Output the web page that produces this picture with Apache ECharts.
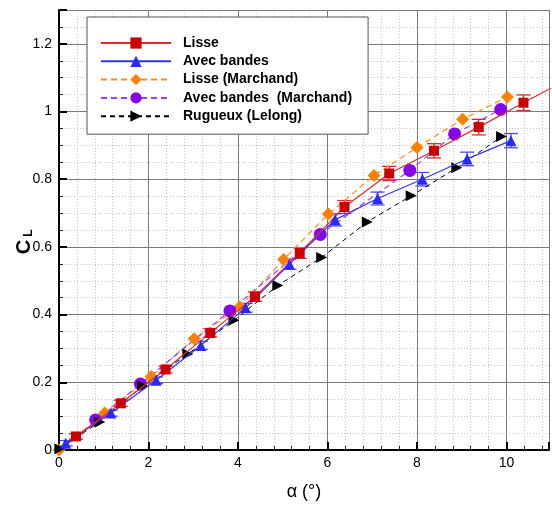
<!DOCTYPE html>
<html><head><meta charset="utf-8">
<script src="https://cdn.jsdelivr.net/npm/echarts@6/dist/echarts.min.js"></script>
<style>html,body{margin:0;padding:0;background:#fff}#c{width:552px;height:506px}</style>
</head><body><div id="c"></div>
<script>
// Lisse (red squares) + error
const lisseX = [0.38, 1.38, 2.38, 3.38, 4.38, 5.38, 6.38, 7.38, 8.38, 9.38, 10.38, 11.38];
const lisseY = [0.04, 0.138, 0.238, 0.346, 0.453, 0.582, 0.718, 0.817, 0.884, 0.954, 1.026, 1.096];
const lisseErr = [0.008, 0.009, 0.010, 0.012, 0.014, 0.016, 0.019, 0.021, 0.021, 0.023, 0.023, 0.024];
// Avec bandes (blue triangles) + error
const bandesX = [0.15, 1.16, 2.17, 3.17, 4.17, 5.15, 6.17, 7.12, 8.12, 9.12, 10.1];
const bandesY = [0.02, 0.109, 0.206, 0.309, 0.42, 0.549, 0.68, 0.743, 0.8, 0.86, 0.914];
const bandesErr = [0.008, 0.009, 0.010, 0.012, 0.013, 0.015, 0.018, 0.019, 0.020, 0.020, 0.021];
// Lisse (Marchand) orange diamonds
const lisseMX = [0, 1.02, 2.06, 3.02, 4.04, 5.02, 6.02, 7.04, 8.0, 9.02, 10.02];
const lisseMY = [0, 0.109, 0.217, 0.329, 0.423, 0.563, 0.697, 0.811, 0.894, 0.977, 1.043];
// Avec bandes (Marchand) purple circles
const bandesMX = [0.82, 1.82, 3.82, 5.84, 7.84, 8.84, 9.87];
const bandesMY = [0.089, 0.195, 0.411, 0.637, 0.826, 0.934, 1.006];
// Rugueux (Lelong) black right triangles
const rugX = [0.02, 0.91, 1.87, 2.88, 3.91, 4.89, 5.87, 6.89, 7.87, 8.89, 9.89];
const rugY = [0.004, 0.083, 0.189, 0.284, 0.383, 0.486, 0.569, 0.674, 0.751, 0.834, 0.926];

const xTicks = [0, 2, 4, 6, 8, 10];
const yTicks = [0, 0.2, 0.4, 0.6, 0.8, 1, 1.2];

const FONT = '"Liberation Sans", Arial, Helvetica, sans-serif';
const zip = (xs, ys) => xs.map((x, i) => [x, ys[i]]);
const zip3 = (xs, ys, es) => xs.map((x, i) => [x, ys[i], es[i]]);

function errRender(color) {
  return function (params, api) {
    const x = api.value(0), y = api.value(1), e = api.value(2);
    const top = api.coord([x, y + e]);
    const bot = api.coord([x, y - e]);
    const hw = 7;
    const st = { stroke: color, lineWidth: 1.3 };
    return {
      type: 'group',
      children: [
        { type: 'line', shape: { x1: top[0], y1: top[1], x2: bot[0], y2: bot[1] }, style: st },
        { type: 'line', shape: { x1: top[0] - hw, y1: top[1], x2: top[0] + hw, y2: top[1] }, style: st },
        { type: 'line', shape: { x1: bot[0] - hw, y1: bot[1], x2: bot[0] + hw, y2: bot[1] }, style: st }
      ]
    };
  };
}

const chart = echarts.init(document.getElementById('c'), null, { renderer: 'canvas' });
const XMAX = 10.95, YMAX = 1.3;
const isTick = (v, arr) => arr.some(t => Math.abs(t - v) < 1e-6);

chart.setOption({
  animation: false,
  backgroundColor: '#fff',
  grid: { left: 59, right: 0, top: 10, bottom: 41, containLabel: false },
  xAxis: [
    {
      type: 'value', min: 0, max: XMAX, interval: 2, z: 3,
      axisLine: { show: true, lineStyle: { color: '#000', width: 2 } },
      axisTick: { show: true, inside: true, length: 8, lineStyle: { color: '#000', width: 2 } },
      axisLabel: { color: '#000', fontFamily: FONT, fontSize: 14, margin: 6,
        formatter: v => isTick(v, xTicks) ? String(v) : '' },
      splitLine: { show: true, lineStyle: { color: '#7a7a7a', width: 1 } },
      name: 'α (°)', nameLocation: 'middle', nameGap: 33,
      nameTextStyle: { color: '#000', fontFamily: FONT, fontSize: 18 }
    },
    {
      type: 'value', min: 0, max: XMAX, interval: 0.4, z: 1, position: 'bottom',
      axisLine: { show: false },
      axisTick: { show: true, inside: true, length: 4, lineStyle: { color: '#222', width: 1 } },
      axisLabel: { show: false },
      splitLine: { show: true, lineStyle: { color: '#c4c4c4', width: 1, type: [1, 2] } }
    }
  ],
  yAxis: [
    {
      type: 'value', min: 0, max: YMAX, interval: 0.2, z: 3,
      axisLine: { show: true, lineStyle: { color: '#000', width: 2 } },
      axisTick: { show: true, inside: true, length: 8, lineStyle: { color: '#000', width: 2 } },
      axisLabel: { color: '#000', fontFamily: FONT, fontSize: 14, margin: 7,
        formatter: v => isTick(v, yTicks) ? String(Math.round(v * 10) / 10) : '' },
      splitLine: { show: true, lineStyle: { color: '#7a7a7a', width: 1 } }
    },
    {
      type: 'value', min: 0, max: YMAX, interval: 0.05, z: 1, position: 'left',
      axisLine: { show: false },
      axisTick: { show: true, inside: true, length: 4, lineStyle: { color: '#222', width: 1 } },
      axisLabel: { show: false },
      splitLine: { show: true, lineStyle: { color: '#c4c4c4', width: 1, type: [1, 2] } }
    }
  ],
  legend: {
    orient: 'vertical', left: 87, top: 17,
    padding: [19, 16, 11, 13],
    itemWidth: 70, itemHeight: 14, itemGap: 4.3,
    backgroundColor: '#fff', borderColor: '#555', borderWidth: 1,
    textStyle: { color: '#000', fontFamily: FONT, fontSize: 14, fontWeight: 'bold', lineHeight: 14, padding: [0, 0, 0, 7] },
    data: ['Lisse', 'Avec bandes', 'Lisse (Marchand)', 'Avec bandes  (Marchand)', 'Rugueux (Lelong)']
  },
  graphic: [
    {
      type: 'group', x: 24, y: 238, rotation: Math.PI / 2,
      children: [
        { type: 'text', x: -9, y: 0, style: { text: 'C', font: 'bold 20px ' + FONT, fill: '#000', align: 'center', verticalAlign: 'middle' } },
        { type: 'text', x: 5, y: 5, style: { text: 'L', font: 'bold 12px ' + FONT, fill: '#000', align: 'center', verticalAlign: 'middle' } }
      ]
    }
  ],
  series: [
    {
      name: 'Lisse err', type: 'custom', z: 2, clip: true,
      renderItem: errRender('#d42a2a'), data: zip3(lisseX, lisseY, lisseErr)
    },
    {
      name: 'Avec bandes err', type: 'custom', z: 2, clip: true,
      renderItem: errRender('#4a4aff'), data: zip3(bandesX, bandesY, bandesErr)
    },
    {
      name: 'Lisse (Marchand)', type: 'line', z: 3, clip: true,
      data: zip(lisseMX, lisseMY),
      symbol: 'diamond', symbolSize: 13,
      lineStyle: { color: '#ff8c1a', width: 1.2, type: [6, 4] },
      itemStyle: { color: '#ff8000' }
    },
    {
      name: 'Avec bandes  (Marchand)', type: 'line', z: 3, clip: true,
      data: zip(bandesMX, bandesMY),
      symbol: 'circle', symbolSize: 13,
      lineStyle: { color: '#9a3cff', width: 1.2, type: [6, 4] },
      itemStyle: { color: '#8800ee' }
    },
    {
      name: 'Rugueux (Lelong)', type: 'line', z: 3, clip: true,
      data: zip(rugX, rugY),
      symbol: 'triangle', symbolSize: 11, symbolRotate: -90,
      lineStyle: { color: '#000', width: 1, type: [5, 4] },
      itemStyle: { color: '#000' }
    },
    {
      name: 'Avec bandes', type: 'line', z: 4, clip: true,
      data: zip(bandesX, bandesY),
      symbol: 'triangle', symbolSize: 11,
      lineStyle: { color: '#3333ff', width: 1.2 },
      itemStyle: { color: '#2828ff' }
    },
    {
      name: 'Lisse', type: 'line', z: 4, clip: true,
      data: zip(lisseX, lisseY),
      symbol: 'rect', symbolSize: 10,
      lineStyle: { color: '#e02a2a', width: 1.2 },
      itemStyle: { color: '#cc0000' }
    }
  ]
});
</script></body></html>
